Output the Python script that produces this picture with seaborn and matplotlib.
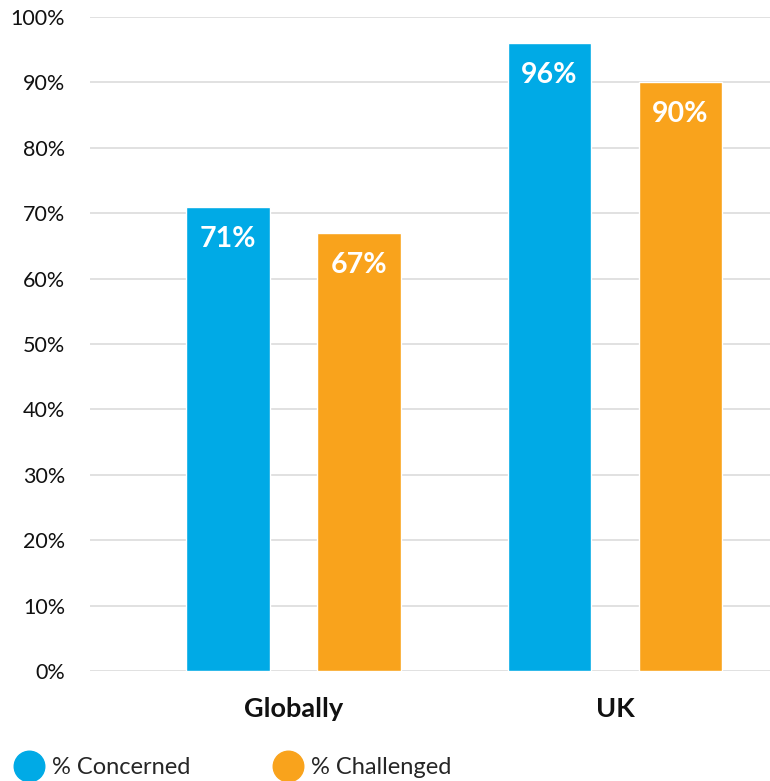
import matplotlib
matplotlib.use("Agg")
import matplotlib.pyplot as plt
from matplotlib.lines import Line2D
import seaborn as sns
import pandas as pd

categories = ["Globally", "UK"]
series_names = ["% Concerned", "% Challenged"]
concerned = [71, 96]
challenged = [67, 90]
y_ticks = [0, 10, 20, 30, 40, 50, 60, 70, 80, 90, 100]
colors = ["#00AAE6", "#F9A31C"]

df = pd.DataFrame({
    "category": categories * 2,
    "series": [series_names[0]] * len(categories) + [series_names[1]] * len(categories),
    "value": concerned + challenged,
})

sns.set_theme(style="white")
plt.rcParams["font.family"] = ["Lato", "DejaVu Sans"]

fig = plt.figure(figsize=(7.7, 7.81), dpi=100)
ax = fig.add_axes([90 / 770, 1 - 671 / 781, 680 / 770, (671 - 17) / 781])

sns.barplot(data=df, x="category", y="value", hue="series", order=categories,
            hue_order=series_names, palette=colors, width=0.815, gap=0.36,
            saturation=1, legend=False, ax=ax, zorder=3)

ax.set_xlim(-0.633, 1.482)
ax.set_ylim(0, 100)
ax.set_yticks(y_ticks)
ax.set_yticklabels([f"{t}%" for t in y_ticks], fontsize=15.5, color="#111111")
ax.tick_params(axis="y", length=0, pad=18)
ax.tick_params(axis="x", length=0, pad=19)
for lab in ax.get_xticklabels():
    lab.set_fontweight("bold")
    lab.set_fontsize(19.5)
    lab.set_color("#111111")
ax.set_xlabel("")
ax.set_ylabel("")
for s in ax.spines.values():
    s.set_visible(False)
ax.yaxis.grid(True, color="#d9d9d9", linewidth=1.1, zorder=0)
ax.set_axisbelow(True)

for container in ax.containers:
    for bar in container:
        h = bar.get_height()
        ax.annotate(f"{h:.0f}%", xy=(bar.get_x() + bar.get_width() / 2, h),
                    xytext=(0, -23), textcoords="offset points",
                    ha="center", va="center", color="white",
                    fontsize=20.5, fontweight="bold", zorder=5)

handles = [Line2D([0], [0], marker="o", linestyle="none", markersize=22,
                  markerfacecolor=c, markeredgecolor=c) for c in colors]
fig.legend(handles, series_names, loc="center left",
           bbox_to_anchor=(0.019, 1 - 768 / 781), ncol=2, frameon=False,
           fontsize=17, handletextpad=0.4, columnspacing=3.5,
           borderaxespad=0, borderpad=0, handlelength=1.2)

fig.savefig("out.png", dpi=100)
